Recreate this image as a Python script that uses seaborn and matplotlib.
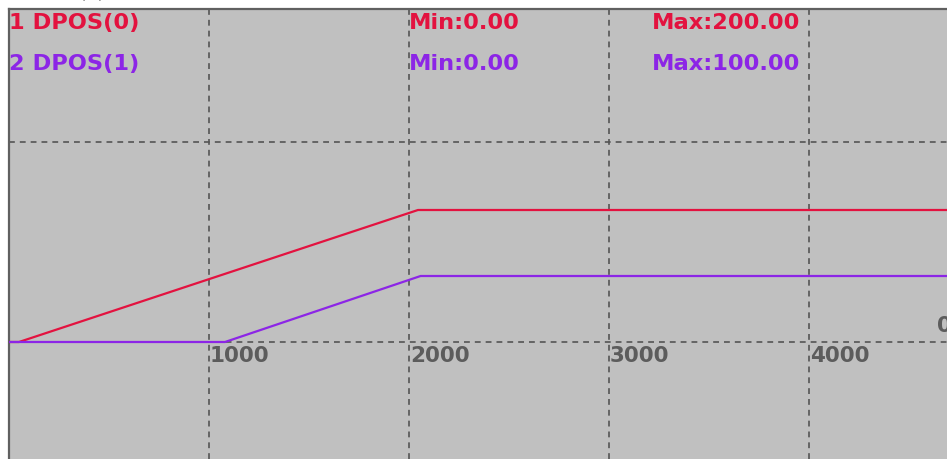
import matplotlib
matplotlib.use("Agg")
import matplotlib.pyplot as plt
import matplotlib.transforms as mtransforms
import seaborn as sns
import pandas as pd

# ---- data ----
red_t = [0, 50, 2045, 4700]
red_v = [0, 0, 200, 200]
pur_t = [0, 1080, 2058, 4700]
pur_v = [0, 0, 100, 100]
x_ticks = [1000, 2000, 3000, 4000]
x_tick_labels = ["1000", "2000", "3000", "4000"]
series_names = ["1 DPOS(0)", "2 DPOS(1)"]
mins = ["Min:0.00", "Min:0.00"]
maxs = ["Max:200.00", "Max:100.00"]

RED = "#e3123f"
PURPLE = "#8c25e6"
GRID = "#555555"
BG = "#c0c0c0"
TICKC = "#5c5c5c"

sns.set_theme(style="white")
plt.rcParams["font.family"] = ["DejaVu Sans"]

W, H = 947, 459
fig = plt.figure(figsize=(W / 100, H / 100), dpi=100, facecolor="white")
ax = fig.add_axes([9 / W, 0, 1 - 9 / W, (H - 9) / H])
ax.set_facecolor(BG)

df = pd.concat([
    pd.DataFrame({"t": red_t, "v": red_v, "s": series_names[0]}),
    pd.DataFrame({"t": pur_t, "v": pur_v, "s": series_names[1]}),
])
sns.lineplot(data=df, x="t", y="v", hue="s", palette=[RED, PURPLE],
             linewidth=1.6, legend=False, ax=ax, zorder=3, estimator=None, sort=False)

# scale: 0.2 px per ms, 0.66 px per unit
ax.set_xlim(0, (W - 9) / 0.2)
ax.set_ylim(-(459 - 342) / 0.66, (342 - 9) / 0.66)

ax.set_xticks(x_ticks)
ax.set_yticks([0, 200 / 0.66])
ax.grid(True, color=GRID, linestyle=(0, (3.5, 3)), linewidth=1.2, zorder=1)
ax.tick_params(length=0, labelbottom=False, labelleft=False)
ax.set_xlabel("")
ax.set_ylabel("")

for s in ["right", "bottom"]:
    ax.spines[s].set_visible(False)
for s in ["left", "top"]:
    ax.spines[s].set_color("#606060")
    ax.spines[s].set_linewidth(1.6)

# tick labels just below the zero line
for xt, lab in zip(x_ticks, x_tick_labels):
    tr = mtransforms.offset_copy(ax.transData, fig=fig, x=1, y=-4, units="dots")
    ax.text(xt, 0, lab, transform=tr, ha="left", va="top", color=TICKC,
            fontsize=15.5, fontweight="bold", zorder=4)
tr0 = mtransforms.offset_copy(ax.transData, fig=fig, x=0, y=6, units="dots")
ax.text(4640, 0, "0", transform=tr0, ha="left", va="bottom", color=TICKC,
        fontsize=15.5, fontweight="bold", clip_on=True, zorder=4)

# header texts
colors = [RED, PURPLE]
ys = [0.969, 0.878]
for i in range(2):
    ax.text(0.0, ys[i], series_names[i], transform=ax.transAxes, color=colors[i],
            fontsize=16.2, fontweight="bold", ha="left", va="center", zorder=5)
    ax.text(2000, ys[i], mins[i], transform=ax.get_xaxis_transform(), color=colors[i],
            fontsize=16.2, fontweight="bold", ha="left", va="center", zorder=5)
    ax.text(3955, ys[i], maxs[i], transform=ax.get_xaxis_transform(), color=colors[i],
            fontsize=16.2, fontweight="bold", ha="right", va="center", zorder=5)

fig.text(92 / W, 1.0 + 8 / H, "(a)", ha="center", va="center", fontsize=14, color="#303030")

fig.savefig("out.png", dpi=100, facecolor="white")
